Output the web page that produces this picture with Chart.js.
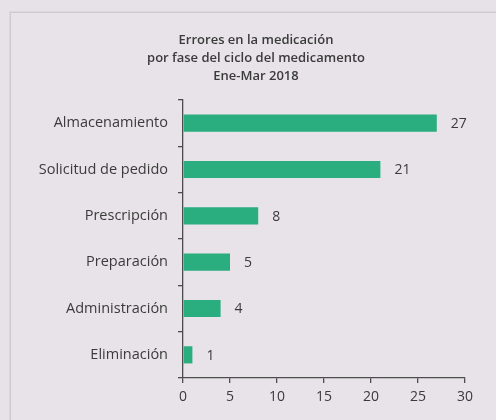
<!DOCTYPE html>
<html lang="es">
<head>
<meta charset="utf-8">
<title>Errores en la medicación</title>
<script src="https://cdn.jsdelivr.net/npm/chart.js@4.4.1/dist/chart.umd.min.js"></script>
<style>
  html, body { margin: 0; padding: 0; background: #e6e2e7; }
  #wrap { position: relative; width: 496px; height: 420px; overflow: hidden; }
  /* card edge behind the chart */
  #panel {
    position: absolute; left: 10px; top: 12px; width: 520px; height: 440px;
    border-top: 1px solid #cdc9ce; border-left: 1px solid #cdc9ce;
    box-shadow: -1px -1px 0 #dcd8dd;
    background: #e7e3e8;
  }
  #chart { position: absolute; left: 0; top: 0; }
</style>
</head>
<body>
<div id="wrap">
  <div id="panel"></div>
  <canvas id="chart" width="496" height="420"></canvas>
</div>
<script>
// ─── Data ─────────────────────────────────────────────────────────────
const fases = [
  "Almacenamiento",
  "Solicitud de pedido",
  "Prescripción",
  "Preparación",
  "Administración",
  "Eliminación",
];
const errores = [27, 21, 8, 5, 4, 1];
const titleLines = [
  "Errores en la medicación",
  "por fase del ciclo del medicamento",
  "Ene-Mar 2018",
];
const xMin = 0;
const xMax = 30;
const xStep = 5;

// ─── Style ────────────────────────────────────────────────────────────
const FONT = "'Open Sans', 'DejaVu Sans', sans-serif";
const TEXT = "#3b3b3b";
const AXIS = "#4d4d4d";
const BAR = "#2aae7f";

// title is centred on the card (x = 256), not over the plot area
const cardTitle = {
  id: "cardTitle",
  afterDraw(chart) {
    const ctx = chart.ctx;
    ctx.save();
    ctx.font = "600 13px " + FONT;
    ctx.fillStyle = TEXT;
    ctx.textAlign = "center";
    ctx.textBaseline = "middle";
    titleLines.forEach((line, i) => ctx.fillText(line, 256, 40 + i * 18.3));
    ctx.restore();
  },
};

// value labels to the right of every bar
const valueLabels = {
  id: "valueLabels",
  afterDatasetsDraw(chart) {
    const ctx = chart.ctx;
    const meta = chart.getDatasetMeta(0);
    ctx.save();
    ctx.font = "14px " + FONT;
    ctx.fillStyle = TEXT;
    ctx.textAlign = "left";
    ctx.textBaseline = "middle";
    meta.data.forEach((bar, i) => {
      ctx.fillText(String(errores[i]), bar.x + 14, bar.y + 1);
    });
    ctx.restore();
  },
};

const ctx = document.getElementById("chart").getContext("2d");
new Chart(ctx, {
  type: "bar",
  data: {
    labels: fases,
    datasets: [{
      data: errores,
      backgroundColor: BAR,
      borderWidth: 0,
      barPercentage: 0.37,
      categoryPercentage: 1,
    }],
  },
  options: {
    indexAxis: "y",
    responsive: false,
    animation: false,
    layout: { padding: { left: 0, right: 31, top: 100, bottom: 0 } },
    plugins: {
      legend: { display: false },
      tooltip: { enabled: false },
      title: { display: false },
    },
    scales: {
      x: {
        min: xMin,
        max: xMax,
        afterFit(scale) { scale.height = 42; },
        border: { display: true, color: AXIS, width: 1.3 },
        grid: { drawOnChartArea: false, drawTicks: true, tickLength: 5, color: AXIS, lineWidth: 1.3 },
        ticks: {
          stepSize: xStep,
          color: TEXT,
          padding: 6,
          font: { family: FONT, size: 14 },
        },
      },
      y: {
        afterFit(scale) { scale.width = 183; },
        border: { display: true, color: AXIS, width: 1.3 },
        grid: { offset: true, drawOnChartArea: false, drawTicks: true, tickLength: 5, color: AXIS, lineWidth: 1.3 },
        ticks: {
          color: TEXT,
          padding: 10,
          font: { family: FONT, size: 14.5 },
        },
      },
    },
  },
  plugins: [valueLabels, cardTitle],
});
</script>
</body>
</html>
